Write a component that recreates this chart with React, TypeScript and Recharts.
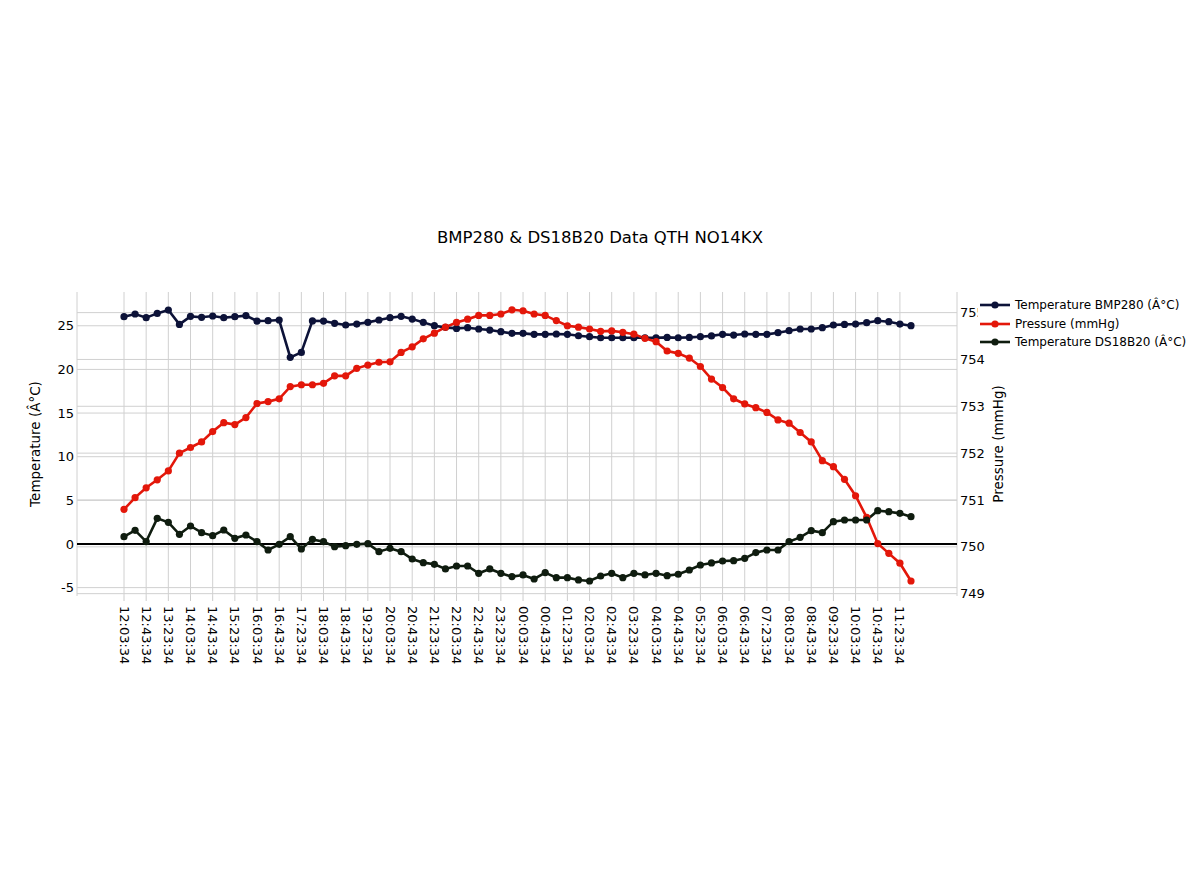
import React from 'react';
import { ComposedChart, Line, XAxis, YAxis, CartesianGrid, ReferenceLine, Legend } from 'recharts';

// readings every 20 minutes
const times = [
  '12:03:34', '12:23:34', '12:43:34', '13:03:34', '13:23:34', '13:43:34', '14:03:34', '14:23:34',
  '14:43:34', '15:03:34', '15:23:34', '15:43:34', '16:03:34', '16:23:34', '16:43:34', '17:03:34',
  '17:23:34', '17:43:34', '18:03:34', '18:23:34', '18:43:34', '19:03:34', '19:23:34', '19:43:34',
  '20:03:34', '20:23:34', '20:43:34', '21:03:34', '21:23:34', '21:43:34', '22:03:34', '22:23:34',
  '22:43:34', '23:03:34', '23:23:34', '23:43:34', '00:03:34', '00:23:34', '00:43:34', '01:03:34',
  '01:23:34', '01:43:34', '02:03:34', '02:23:34', '02:43:34', '03:03:34', '03:23:34', '03:43:34',
  '04:03:34', '04:23:34', '04:43:34', '05:03:34', '05:23:34', '05:43:34', '06:03:34', '06:23:34',
  '06:43:34', '07:03:34', '07:23:34', '07:43:34', '08:03:34', '08:23:34', '08:43:34', '09:03:34',
  '09:23:34', '09:43:34', '10:03:34', '10:23:34', '10:43:34', '11:03:34', '11:23:34', '11:43:34',
];

const bmp280Temp = [
  26.04, 26.35, 25.93, 26.42, 26.8, 25.16, 26.08, 25.97, 26.12, 25.93, 26.04, 26.16, 25.54, 25.58, 25.66, 21.38,
  21.95, 25.56, 25.54, 25.28, 25.09, 25.2, 25.39, 25.66, 25.93, 26.08, 25.77, 25.39, 25.01, 24.82, 24.7, 24.78,
  24.63, 24.51, 24.32, 24.13, 24.13, 24.02, 24.02, 24.06, 24.02, 23.86, 23.75, 23.63, 23.63, 23.63, 23.63, 23.63,
  23.63, 23.67, 23.63, 23.67, 23.75, 23.84, 24.02, 23.94, 24.06, 24.02, 24.02, 24.21, 24.44, 24.63, 24.63, 24.78,
  25.09, 25.16, 25.2, 25.35, 25.58, 25.47, 25.2, 25.01,
];

const pressure = [
  750.8, 751.05, 751.26, 751.43, 751.62, 752.0, 752.12, 752.24, 752.46, 752.65, 752.61, 752.76, 753.06, 753.1, 753.16, 753.42,
  753.46, 753.46, 753.49, 753.65, 753.65, 753.81, 753.88, 753.94, 753.95, 754.15, 754.27, 754.44, 754.56, 754.69, 754.79, 754.86,
  754.94, 754.94, 754.97, 755.06, 755.04, 754.97, 754.94, 754.83, 754.72, 754.69, 754.65, 754.6, 754.61, 754.58, 754.54, 754.45,
  754.38, 754.18, 754.13, 754.03, 753.85, 753.58, 753.4, 753.16, 753.05, 752.97, 752.87, 752.71, 752.64, 752.44, 752.24, 751.84,
  751.71, 751.44, 751.09, 750.63, 750.07, 749.86, 749.65, 749.27,
];

const ds18b20Temp = [
  0.84, 1.56, 0.27, 2.94, 2.48, 1.11, 2.06, 1.3, 0.95, 1.6, 0.65, 1.03, 0.27, -0.69, -0.04, 0.84,
  -0.57, 0.53, 0.27, -0.31, -0.19, -0.04, 0.04, -0.88, -0.5, -0.88, -1.72, -2.14, -2.33, -2.86, -2.52, -2.52,
  -3.36, -2.86, -3.36, -3.74, -3.55, -4.01, -3.28, -3.86, -3.86, -4.12, -4.24, -3.67, -3.36, -3.86, -3.36, -3.55,
  -3.36, -3.63, -3.47, -2.98, -2.41, -2.17, -1.95, -1.91, -1.64, -0.99, -0.69, -0.69, 0.27, 0.76, 1.53, 1.3,
  2.56, 2.75, 2.75, 2.75, 3.82, 3.7, 3.51, 3.13,
];

const tempTicks = [-5, 0, 5, 10, 15, 20, 25];
const pressureTicks = [749, 750, 751, 752, 753, 754, 755];
const timeTicks = times.filter((_, i) => i % 2 === 0);

const series = [
  { key: 'bmp', name: 'Temperature BMP280 (Â°C)', color: '#0c1238', axis: 'left' },
  { key: 'pressure', name: 'Pressure (mmHg)', color: '#e3170a', axis: 'right' },
  { key: 'ds', name: 'Temperature DS18B20 (Â°C)', color: '#0f1c0f', axis: 'left' },
];

const data = times.map((t, i) => ({
  time: t,
  bmp: bmp280Temp[i],
  pressure: pressure[i],
  ds: ds18b20Temp[i],
}));

const FONT = '"DejaVu Sans", Verdana, sans-serif';
const TEXT = '#000000';

const TimeTick = (props: any) => {
  const { x, y, payload } = props;
  return (
    <text
      x={x}
      y={y + 3}
      transform={`rotate(90, ${x}, ${y + 3})`}
      textAnchor="start"
      dominantBaseline="central"
      fontFamily={FONT}
      fontSize={13}
      fill={TEXT}
    >
      {payload.value}
    </text>
  );
};

const AxisTitle = (props: any) => {
  const { viewBox, value, dx } = props;
  const cx = viewBox.x + dx;
  const cy = viewBox.y + viewBox.height / 2;
  return (
    <text
      x={cx}
      y={cy}
      transform={`rotate(-90, ${cx}, ${cy})`}
      textAnchor="middle"
      dominantBaseline="central"
      fontFamily={FONT}
      fontSize={13.5}
      fill={TEXT}
    >
      {value}
    </text>
  );
};

const LegendBox = () => (
  <div style={{ background: '#fff', fontFamily: FONT, fontSize: 12, color: TEXT }}>
    {series.map((s) => (
      <div key={s.key} style={{ display: 'flex', alignItems: 'center', height: 18.5 }}>
        <svg width={34} height={10}>
          <line x1={2} y1={5} x2={32} y2={5} stroke={s.color} strokeWidth={2.6} />
          <circle cx={17} cy={5} r={3.6} fill={s.color} />
        </svg>
        <span style={{ marginLeft: 3, whiteSpace: 'nowrap' }}>{s.name}</span>
      </div>
    ))}
  </div>
);

export default function App() {
  return (
    <div style={{ position: 'relative', width: 1184, height: 857 }}>
      <div
        style={{
          position: 'absolute',
          left: 0,
          top: 220,
          width: 1184,
          textAlign: 'center',
          fontFamily: FONT,
          fontSize: 16.5,
          lineHeight: '20px',
          color: TEXT,
        }}
      >
        BMP280 &amp; DS18B20 Data QTH NO14KX
      </div>
      <ComposedChart
        width={1184}
        height={857}
        data={data}
        margin={{ top: 284, right: 185, bottom: 189, left: 0 }}
      >
        <CartesianGrid yAxisId="left" stroke="#d0d0d0" horizontalValues={tempTicks} />
        <CartesianGrid yAxisId="right" stroke="#d0d0d0" vertical={false} horizontalValues={pressureTicks} />
        <XAxis
          dataKey="time"
          ticks={timeTicks}
          interval={0}
          height={80}
          padding={{ left: 47, right: 46 }}
          axisLine={false}
          tickLine={{ stroke: '#cccccc' }}
          tickSize={5}
          tickMargin={2}
          tick={<TimeTick />}
        />
        <YAxis
          yAxisId="left"
          width={69}
          type="number"
          domain={[-5.96, 28.87]}
          ticks={tempTicks}
          interval={0}
          axisLine={false}
          tickLine={false}
          tickSize={0}
          tickMargin={3}
          tick={{ fontFamily: FONT, fontSize: 13, fill: TEXT }}
          label={<AxisTitle value="Temperature (Â°C)" dx={27} />}
        />
        <YAxis
          yAxisId="right"
          orientation="right"
          width={50}
          type="number"
          domain={[748.95, 755.44]}
          ticks={pressureTicks}
          interval={0}
          axisLine={false}
          tickLine={false}
          tickSize={0}
          tickMargin={3}
          tick={{ fontFamily: FONT, fontSize: 13, fill: TEXT }}
          label={<AxisTitle value="Pressure (mmHg)" dx={41} />}
        />
        <ReferenceLine yAxisId="left" y={0} stroke="#000000" strokeWidth={2} />
        {series.map((s) => (
          <Line
            key={s.key}
            yAxisId={s.axis}
            dataKey={s.key}
            name={s.name}
            type="linear"
            stroke={s.color}
            strokeWidth={2.6}
            dot={{ r: 3.6, fill: s.color, stroke: s.color, strokeWidth: 0 }}
            activeDot={false}
            isAnimationActive={false}
          />
        ))}
        <Legend
          layout="horizontal"
          align="center"
          verticalAlign="middle"
          content={<LegendBox />}
          wrapperStyle={{ position: 'absolute', left: 970, top: 288, width: 214 }}
        />
      </ComposedChart>
    </div>
  );
}
